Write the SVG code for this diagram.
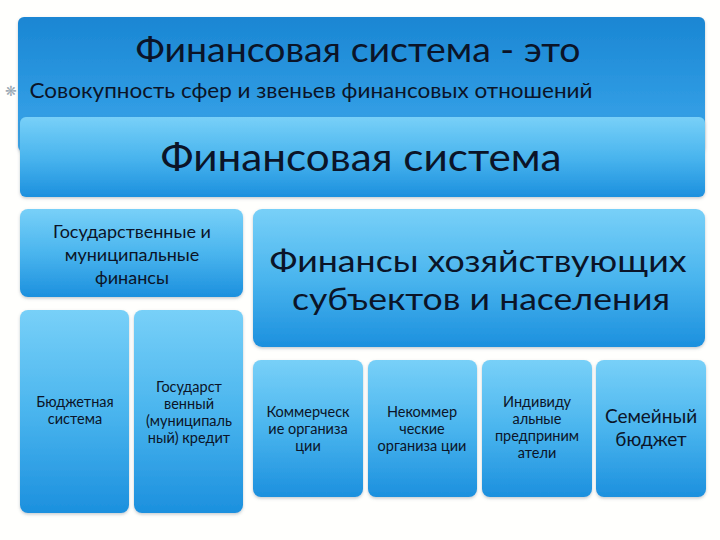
<svg xmlns="http://www.w3.org/2000/svg" width="720" height="540" viewBox="0 0 720 540">
<defs>
<linearGradient id="gTop" x1="0" y1="0" x2="0" y2="1">
<stop offset="0" stop-color="#1a86d3"/>
<stop offset="0.6" stop-color="#2e9ae2"/>
<stop offset="1" stop-color="#3aa6ea"/>
</linearGradient>
<linearGradient id="gBox" x1="0" y1="0" x2="0" y2="1">
<stop offset="0" stop-color="#78d0f8"/>
<stop offset="0.5" stop-color="#4ab5ee"/>
<stop offset="1" stop-color="#1c90de"/>
</linearGradient>
<filter id="sh" x="-10%" y="-10%" width="120%" height="120%">
<feDropShadow dx="0" dy="1.5" stdDeviation="1.5" flood-color="#5a6a7a" flood-opacity="0.35"/>
</filter>
</defs>
<style>
.box{fill:url(#gBox);filter:url(#sh)}
text{font-family:Lato,"Noto Sans","Liberation Sans",sans-serif;fill:#0b1428;text-anchor:middle}
.s{font-size:14.5px}
.m{font-size:18px}
</style>
<rect width="720" height="540" fill="#fffffd"/>
<g id="header">
<rect x="18" y="17" width="687" height="135" rx="6" fill="url(#gTop)" filter="url(#sh)"/>
<text x="358" y="62" font-size="34" textLength="445" lengthAdjust="spacingAndGlyphs">Финансовая система - это</text>
<text x="11" y="96" font-size="14" style="fill:#9aa8b4">❋</text>
<text x="311" y="98" font-size="21" textLength="563" lengthAdjust="spacingAndGlyphs">Совокупность сфер и звеньев финансовых отношений</text>
</g>
<g id="fin-system">
<rect x="20" y="117" width="685" height="80" rx="6" class="box"/>
<text x="361" y="171" font-size="39" textLength="401" lengthAdjust="spacingAndGlyphs">Финансовая система</text>
</g>
<g id="gov-finance">
<rect x="20" y="209" width="223" height="88" rx="8" class="box"/>
<text class="m" x="132" y="238">Государственные и</text>
<text class="m" x="132" y="261">муниципальные</text>
<text class="m" x="132" y="284">финансы</text>
</g>
<g id="budget">
<rect x="20" y="310" width="109" height="203" rx="8" class="box"/>
<text class="s" x="75" y="407">Бюджетная</text>
<text class="s" x="75" y="424">система</text>
</g>
<g id="credit">
<rect x="134" y="310" width="109" height="203" rx="8" class="box"/>
<text class="s" x="189" y="392">Государст</text>
<text class="s" x="189" y="409">венный</text>
<text class="s" x="189" y="426">(муниципаль</text>
<text class="s" x="189" y="443">ный) кредит</text>
</g>
<g id="business-finance">
<rect x="253" y="209" width="452" height="138" rx="9" class="box"/>
<text x="478" y="272" font-size="30.5" textLength="417" lengthAdjust="spacingAndGlyphs">Финансы хозяйствующих</text>
<text x="481" y="310" font-size="30.5" textLength="378" lengthAdjust="spacingAndGlyphs">субъектов и населения</text>
</g>
<g id="commercial">
<rect x="253" y="360" width="110" height="137" rx="8" class="box"/>
<text class="s" x="308" y="417">Коммерческ</text>
<text class="s" x="308" y="434">ие организа</text>
<text class="s" x="308" y="451">ции</text>
</g>
<g id="noncommercial">
<rect x="368" y="360" width="109" height="137" rx="8" class="box"/>
<text class="s" x="422" y="417">Некоммер</text>
<text class="s" x="422" y="434">ческие</text>
<text class="s" x="422" y="451">организа ции</text>
</g>
<g id="entrepreneurs">
<rect x="482" y="360" width="110" height="137" rx="8" class="box"/>
<text class="s" x="537" y="407">Индивиду</text>
<text class="s" x="537" y="424">альные</text>
<text class="s" x="537" y="441">предприним</text>
<text class="s" x="537" y="458">атели</text>
</g>
<g id="family">
<rect x="596" y="360" width="110" height="137" rx="8" class="box"/>
<text x="651" y="423" font-size="19">Семейный</text>
<text x="651" y="446" font-size="19">бюджет</text>
</g>
</svg>
